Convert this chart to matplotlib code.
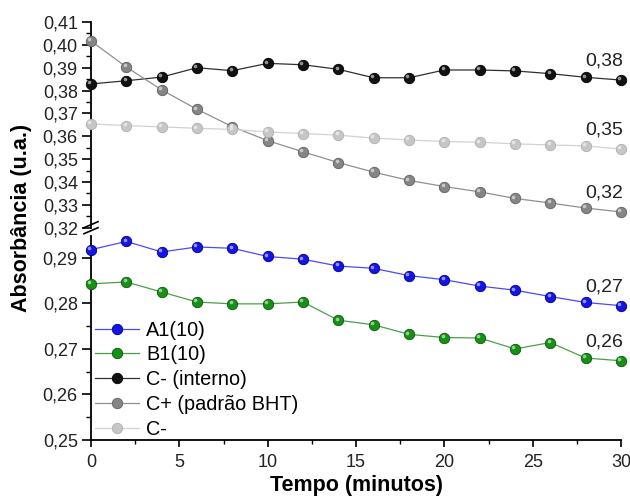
import matplotlib
matplotlib.use("Agg")
import matplotlib.pyplot as plt
import matplotlib.transforms as mtransforms
from matplotlib.ticker import MultipleLocator, FuncFormatter
from matplotlib.lines import Line2D

plt.rcParams['font.family'] = ['Liberation Sans', 'DejaVu Sans']

tempo = [0, 2, 4, 6, 8, 10, 12, 14, 16, 18, 20, 22, 24, 26, 28, 30]

a1 = [0.2918, 0.2936, 0.2913, 0.2924, 0.2921, 0.2903, 0.2897, 0.2882,
      0.2877, 0.2861, 0.2852, 0.2838, 0.2829, 0.2815, 0.2802, 0.2795]
b1 = [0.2843, 0.2847, 0.2825, 0.2803, 0.2799, 0.2799, 0.2803, 0.2763,
      0.2753, 0.2732, 0.2725, 0.2724, 0.2700, 0.2714, 0.2680, 0.2674]
c_interno = [0.3829, 0.3843, 0.3859, 0.3900, 0.3887, 0.3919, 0.3913, 0.3893,
             0.3856, 0.3856, 0.3890, 0.3890, 0.3886, 0.3874, 0.3858, 0.3846]
c_bht = [0.4017, 0.3903, 0.3803, 0.3718, 0.3642, 0.3581, 0.3532, 0.3485,
         0.3443, 0.3407, 0.3380, 0.3357, 0.3328, 0.3308, 0.3286, 0.3269]
c_neg = [0.3654, 0.3647, 0.3641, 0.3635, 0.3630, 0.3619, 0.3612, 0.3605,
         0.3592, 0.3584, 0.3577, 0.3574, 0.3567, 0.3562, 0.3558, 0.3544]

labels = ['A1(10)', 'B1(10)', 'C- (interno)', 'C+ (padrão BHT)', 'C-']
end_labels = ['0,27', '0,26', '0,38', '0,32', '0,35']

W, H = 630, 499
fig = plt.figure(figsize=(W / 100, H / 100), dpi=100)
fig.patch.set_facecolor('white')

x0, x1 = 91, 621
up_top, up_bot = 22, 227.7
lo_top, lo_bot = 236, 440
ax_up = fig.add_axes([x0 / W, 1 - up_bot / H, (x1 - x0) / W, (up_bot - up_top) / H])
ax_lo = fig.add_axes([x0 / W, 1 - lo_bot / H, (x1 - x0) / W, (lo_bot - lo_top) / H])

ax_up.set_ylim(0.32, 0.41)
ax_lo.set_ylim(0.25, 0.2948)
for ax in (ax_up, ax_lo):
    ax.set_xlim(0, 30)
    ax.set_facecolor('none')
    for s in ('top', 'right'):
        ax.spines[s].set_visible(False)
    ax.spines['left'].set_linewidth(1.3)
    ax.yaxis.set_major_locator(MultipleLocator(0.01))
    ax.yaxis.set_minor_locator(MultipleLocator(0.005))
    ax.yaxis.set_major_formatter(FuncFormatter(lambda v, p: f"{v:.2f}".replace('.', ',')))
    ax.tick_params(axis='y', which='major', direction='out', length=6.5, width=1.2,
                   labelsize=13, pad=3, labelcolor='#222222')
    ax.tick_params(axis='y', which='minor', direction='out', length=3.5, width=1.0)

ax_up.spines['bottom'].set_visible(False)
ax_up.tick_params(axis='x', which='both', bottom=False, labelbottom=False)

ax_lo.spines['bottom'].set_linewidth(1.3)
ax_lo.xaxis.set_major_locator(MultipleLocator(5))
ax_lo.xaxis.set_minor_locator(MultipleLocator(2.5))
ax_lo.tick_params(axis='x', which='major', direction='out', length=5, width=1.2,
                  labelsize=13, pad=5, labelcolor='#222222')
ax_lo.tick_params(axis='x', which='minor', direction='out', length=3, width=1.0)

styles = [
    (ax_lo, a1, '#4a4aff', '#1414e6', '#00008a'),
    (ax_lo, b1, '#4a9f4a', '#169116', '#0a560a'),
    (ax_up, c_interno, '#303030', '#111111', '#000000'),
    (ax_up, c_bht, '#909090', '#858585', '#606060'),
    (ax_up, c_neg, '#d2d2d2', '#c6c6c6', '#b0b0b0'),
]

handles = []
for (ax, ys, lc, mc, ec), lab, el in zip(styles, labels, end_labels):
    ax.plot(tempo, ys, color=lc, lw=0.9, marker='o', ms=7.5, mfc=mc, mec=ec,
            mew=0.6, clip_on=False, zorder=3)
    # specular highlight to mimic shaded spheres
    shift = mtransforms.offset_copy(ax.transData, fig=fig, x=-1.2, y=1.2, units='points')
    ax.plot(tempo, ys, ls='none', marker='o', ms=2.6, mfc='white', mec='none',
            alpha=0.55, transform=shift, clip_on=False, zorder=4)
    ax.annotate(el, (tempo[-1], ys[-1]), xytext=(1.5, 13.5), textcoords='offset points',
                ha='right', va='center', fontsize=14, color='#222222')
    handles.append(Line2D([], [], color=lc, lw=0.9, marker='o', ms=7.5, mfc=mc,
                          mec=ec, mew=0.6))

ax_lo.legend(handles, labels, loc='upper left', bbox_to_anchor=(0.008, 0.585),
             frameon=False, fontsize=14.3, handlelength=2.2, handletextpad=0.35,
             labelspacing=0.29, borderpad=0, borderaxespad=0)

# break marks
for yb in (up_bot - 3, up_bot + 3):
    fig.add_artist(Line2D([(x0 - 7) / W, (x0 + 7) / W],
                          [1 - (yb + 3) / H, 1 - (yb - 3) / H],
                          color='black', lw=1.2))

fig.text(356 / W, 1 - 485 / H, 'Tempo (minutos)', ha='center', va='center',
         fontsize=15.5, fontweight='bold')
fig.text(22 / W, 1 - 218 / H, 'Absorbância (u.a.)', ha='center', va='center',
         rotation=90, fontsize=15.5, fontweight='bold')

fig.savefig('out.png', dpi=100)
